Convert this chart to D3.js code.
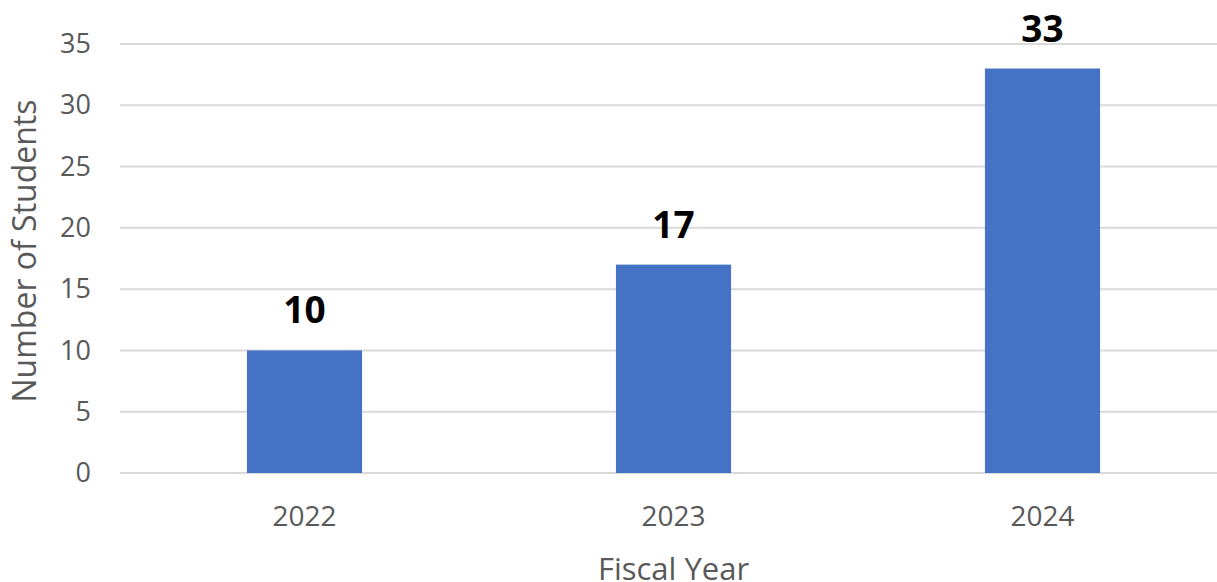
<!DOCTYPE html>
<html>
<head>
<meta charset="utf-8">
<script src="https://cdn.jsdelivr.net/npm/d3@7"></script>
<style>
  html, body { margin: 0; padding: 0; background: #fff; overflow: hidden; }
  svg { display: block; }
</style>
</head>
<body>
<svg id="chart" width="1217" height="582"></svg>
<script>
const categories = ["2022", "2023", "2024"];
const values = [10, 17, 33];
const yTicks = [0, 5, 10, 15, 20, 25, 30, 35];
const xTitle = "Fiscal Year";
const yTitle = "Number of Students";

const svg = d3.select("#chart");
const font = "'Open Sans', 'Noto Sans', sans-serif";
const plotLeft = 120, plotRight = 1227, plotTop = 44, plotBottom = 473;

const x = d3.scaleBand().domain(categories).range([plotLeft, plotRight])
  .paddingInner(0.688).paddingOuter(0.344);
const y = d3.scaleLinear().domain([0, 35]).range([plotBottom, plotTop]);

// gridlines
svg.append("g").selectAll("line").data(yTicks).join("line")
  .attr("x1", plotLeft).attr("x2", 1217)
  .attr("y1", d => y(d)).attr("y2", d => y(d))
  .attr("stroke", "#d9d9d9").attr("stroke-width", 2);

// y axis labels
const yAxis = d3.axisLeft(y).tickValues(yTicks).tickSize(0).tickPadding(0);
const gy = svg.append("g").attr("transform", `translate(91,0)`).call(yAxis);
gy.select(".domain").remove();
gy.selectAll("text").attr("font-family", font).attr("font-size", 27)
  .attr("fill", "#595959");

// bars
svg.append("g").selectAll("rect").data(values).join("rect")
  .attr("x", (d, i) => x(categories[i]))
  .attr("width", x.bandwidth())
  .attr("y", d => y(d))
  .attr("height", d => y(0) - y(d))
  .attr("fill", "#4472c4");

// data labels
svg.append("g").selectAll("text").data(values).join("text")
  .attr("x", (d, i) => x(categories[i]) + x.bandwidth() / 2)
  .attr("y", d => y(d) - 27)
  .attr("text-anchor", "middle")
  .attr("font-family", font).attr("font-size", 37).attr("font-weight", "bold")
  .attr("fill", "#000")
  .text(d => d);

// x axis labels
const xAxis = d3.axisBottom(x).tickSize(0).tickPadding(0);
const gx = svg.append("g").attr("transform", `translate(0,${plotBottom})`).call(xAxis);
gx.select(".domain").remove();
gx.selectAll("text").attr("font-family", font).attr("font-size", 28)
  .attr("fill", "#595959").attr("dy", null).attr("y", 53);

// axis titles
svg.append("text")
  .attr("x", (plotLeft + plotRight) / 2).attr("y", 580)
  .attr("text-anchor", "middle")
  .attr("font-family", font).attr("font-size", 31).attr("fill", "#595959")
  .text(xTitle);

svg.append("text")
  .attr("transform", `translate(36,251) rotate(-90)`)
  .attr("text-anchor", "middle")
  .attr("font-family", font).attr("font-size", 32).attr("fill", "#595959")
  .text(yTitle);
</script>
</body>
</html>
